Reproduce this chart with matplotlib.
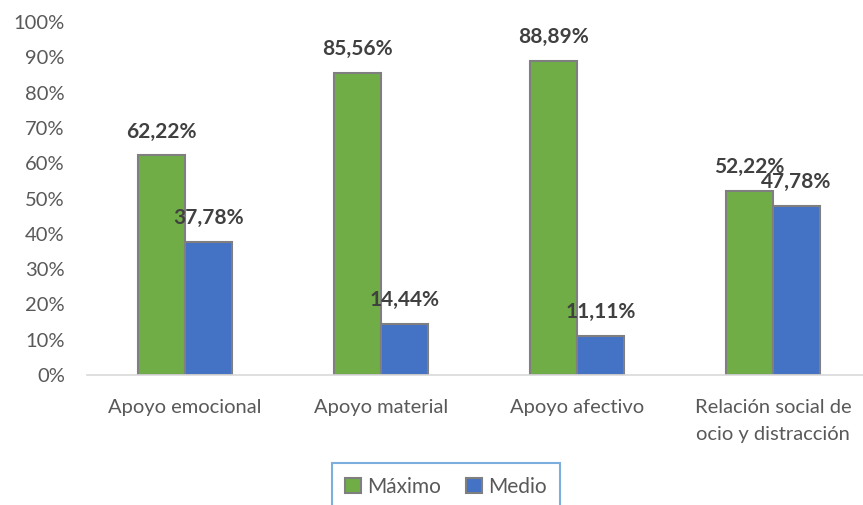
import matplotlib.pyplot as plt
import numpy as np

# data
categorias = ["Apoyo emocional", "Apoyo material", "Apoyo afectivo",
              "Relación social de\nocio y distracción"]
maximo = [62.22, 85.56, 88.89, 52.22]
medio = [37.78, 14.44, 11.11, 47.78]
series_names = ["Máximo", "Medio"]

plt.rcParams['font.family'] = ['Lato', 'DejaVu Sans']

W, H = 863, 505
fig = plt.figure(figsize=(W / 100, H / 100), dpi=100)
ax = fig.add_axes([87 / W, 1 - 375 / H, 784 / W, 353 / H])

x = np.arange(len(categorias))
bw = 0.24
b1 = ax.bar(x - bw / 2, maximo, bw, color='#70AD47', edgecolor='#7f7f7f',
            linewidth=1.5, label=series_names[0])
b2 = ax.bar(x + bw / 2, medio, bw, color='#4472C4', edgecolor='#7f7f7f',
            linewidth=1.5, label=series_names[1])

def fmt(v):
    return ("%.2f%%" % v).replace('.', ',')

for bars, vals in ((b1, maximo), (b2, medio)):
    for b, v in zip(bars, vals):
        ax.annotate(fmt(v), (b.get_x() + b.get_width() / 2, v),
                    xytext=(0, 10), textcoords='offset points',
                    ha='center', va='bottom', fontsize=15,
                    fontweight='bold', color='#404040')

ax.set_ylim(0, 100)
ax.set_xlim(-0.5, 3.5)
ax.set_yticks(np.arange(0, 101, 10))
ax.set_yticklabels(["%d%%" % t for t in range(0, 101, 10)])
ax.set_xticks(x)
ax.set_xticklabels(categorias, linespacing=1.75)
ax.tick_params(axis='y', length=0, labelsize=14.5, labelcolor='#595959', pad=16)
ax.tick_params(axis='x', length=0, labelsize=14.5, labelcolor='#595959', pad=17)
for s in ['top', 'right', 'left']:
    ax.spines[s].set_visible(False)
ax.spines['bottom'].set_color('#d9d9d9')
ax.spines['bottom'].set_linewidth(1.2)

leg = fig.legend(loc='upper center', bbox_to_anchor=(446 / W, 1 - 463 / H),
                 ncol=2, frameon=True, fontsize=15, handlelength=0.75,
                 handleheight=0.75, handletextpad=0.3, columnspacing=1.2,
                 borderpad=0.65, borderaxespad=0, fancybox=False)
leg.get_frame().set_edgecolor('#5b9bd5')
leg.get_frame().set_linewidth(1.5)
for t in leg.get_texts():
    t.set_color('#595959')

fig.savefig('out.png', dpi=100)
